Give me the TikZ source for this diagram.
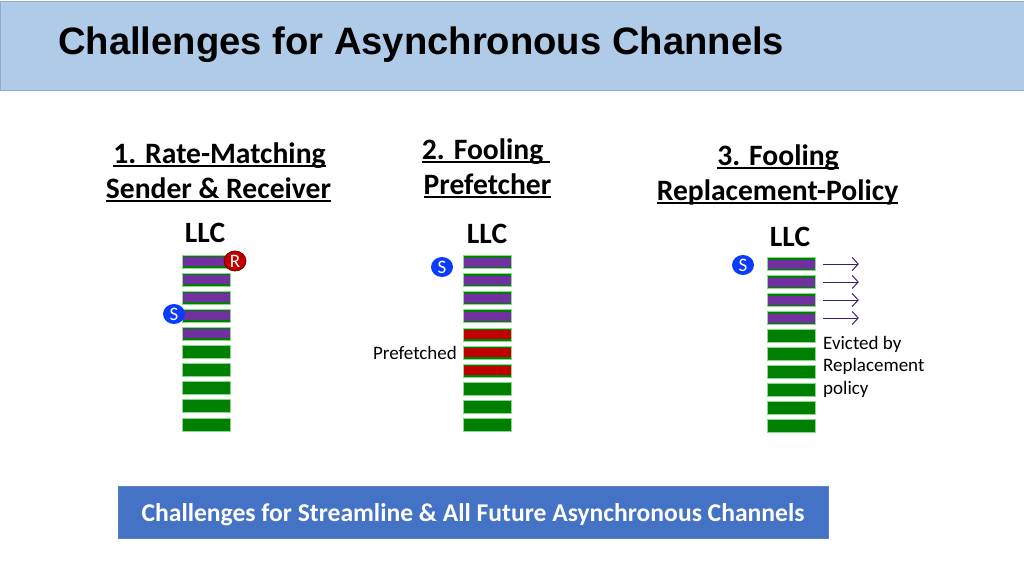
\documentclass[tikz,border=0pt]{standalone}
\usepackage{fontspec}
\setmainfont{Carlito}
\newfontfamily\titlefont{Liberation Sans}
\usetikzlibrary{arrows.meta,shapes.geometric}
\definecolor{band}{RGB}{175,203,232}
\definecolor{bandline}{RGB}{143,172,214}
\definecolor{boxblue}{RGB}{68,114,196}
\definecolor{boxline}{RGB}{90,130,200}
\definecolor{cgreen}{RGB}{0,128,0}
\definecolor{lgreen}{RGB}{140,215,140}
\definecolor{cpurple}{RGB}{112,48,160}
\definecolor{cred}{RGB}{192,0,0}
\definecolor{cdred}{RGB}{120,0,0}
\definecolor{cblue}{RGB}{10,60,250}
\definecolor{arrowpurple}{RGB}{60,30,110}
\newsavebox\ulbox
\newcommand\myul[1]{\sbox\ulbox{#1}\rlap{\rule[-3.5pt]{\wd\ulbox}{1.8pt}}\usebox\ulbox}
\begin{document}
\begin{tikzpicture}[x=1pt,y=-1pt,
  txt/.style={inner sep=0pt, anchor=base},
  head/.style={txt, font=\bfseries\fontsize{29.6}{34}\selectfont},
  llc/.style={txt, font=\bfseries\fontsize{29.5}{34}\selectfont},
  small/.style={inner sep=0pt, font=\fontsize{19}{22.7}\selectfont},
  cell/.style={rectangle, inner sep=0pt, minimum width=48pt, minimum height=13pt, fill=cgreen, draw=lgreen, line width=0.7pt},
  pcell/.style={cell, path picture={\fill[cpurple] ([yshift=-2pt]path picture bounding box.north west) rectangle ([yshift=2pt]path picture bounding box.south east);}},
  rcell/.style={cell, path picture={\fill[cred] ([yshift=-2pt]path picture bounding box.north west) rectangle ([yshift=2pt]path picture bounding box.south east);}},
  sig/.style={ellipse, inner sep=0pt, minimum width=22pt, minimum height=20pt, text=white, font=\fontsize{19}{19}\selectfont},
  evict/.style={draw=arrowpurple, line width=1pt, -{Straight Barb[length=6pt,width=13pt,line width=1pt]}}
]
\useasboundingbox (0,0) rectangle (1024,575);
% title band
\node[rectangle, fill=band, draw=bandline, line width=1pt, minimum width=1024pt, minimum height=89pt, inner sep=0pt, anchor=north west] (band) at (0,1) {};
\node[txt, anchor=base west, font=\titlefont\bfseries\fontsize{38.2}{40}\selectfont] (title) at (58,54.5) {Challenges for Asynchronous Channels};
% headings
\node[head] (h1a) at (219.5,163.3) {\myul{1. Rate-Matching}};
\node[head] (h1b) at (218.5,198.3) {\myul{Sender \& Receiver}};
\node[head] (h2a) at (486,159.3) {\myul{2. Fooling\ }};
\node[head] (h2b) at (487.5,194.3) {\myul{Prefetcher}};
\node[head] (h3a) at (778,165.3) {\myul{3. Fooling}};
\node[head] (h3b) at (777.5,200.3) {\myul{Replacement-Policy}};
\node[llc] (l1) at (205,242.7) {LLC};
\node[llc] (l2) at (487,243) {LLC};
\node[llc] (l3) at (790,246) {LLC};
% stack 1
\foreach \i in {1,...,5} \node[pcell] (a\i) at (206,{261.5+18.1*(\i-1)}) {};
\foreach \i in {6,...,10} \node[cell] (a\i) at (206,{261.5+18.1*(\i-1)}) {};
% stack 2
\foreach \i in {1,...,4} \node[pcell] (b\i) at (487.5,{262+18.1*(\i-1)}) {};
\foreach \i in {5,...,7} \node[rcell] (b\i) at (487.5,{262+18.1*(\i-1)}) {};
\foreach \i in {8,...,10} \node[cell] (b\i) at (487.5,{262+18.1*(\i-1)}) {};
% stack 3
\foreach \i in {1,...,4} \node[pcell] (c\i) at (791.5,{264+18*(\i-1)}) {};
\foreach \i in {5,...,10} \node[cell] (c\i) at (791.5,{264+18*(\i-1)}) {};
% sender / receiver marks
\node[sig, fill=cred, draw=cdred, line width=0.8pt] (r1) at (235,261) {R};
\node[sig, fill=cblue] (s1) at (174,314) {S};
\node[sig, fill=cblue] (s2) at (442,267) {S};
\node[sig, fill=cblue] (s3) at (743,265) {S};
% prefetched label
\node[small, anchor=base east] (pf) at (457,359) {Prefetched};
% eviction arrows
\foreach \i in {1,...,4} {
  \coordinate (e\i) at ([xshift=43pt]c\i.east);
  \draw[evict] ([xshift=7.5pt]c\i.east) -- (e\i);
}
\node[small, anchor=base west] (ev1) at (823,349) {Evicted by};
\node[small, anchor=base west] (ev2) at (823,371.7) {Replacement};
\node[small, anchor=base west] (ev3) at (823,394.4) {policy};
% bottom box
\node[rectangle, fill=boxblue, draw=boxline, line width=0.6pt, minimum width=710pt, minimum height=52pt, inner sep=0pt] (bb) at (473,512) {};
\node[txt, text=white, font=\bfseries\fontsize{25.6}{28}\selectfont] (bt) at (473,521.5) {Challenges for Streamline \& All Future Asynchronous Channels};
\end{tikzpicture}
\end{document}
